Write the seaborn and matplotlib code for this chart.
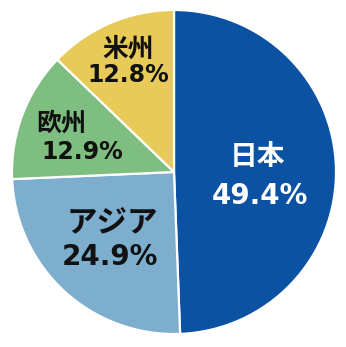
import matplotlib
matplotlib.use("Agg")
import matplotlib.pyplot as plt
import seaborn as sns

sns.set_style("white")
plt.rcParams['font.family'] = ['Noto Sans CJK JP', 'DejaVu Sans']

# Data
regions = ["日本", "アジア", "欧州", "米州"]
shares = [49.4, 24.9, 12.9, 12.8]
colors = sns.color_palette(["#0B52A3", "#7EAECE", "#7EBE80", "#E8CA58"])
text_colors = ["white", "#111111", "#111111", "#111111"]

# label placement (pixel centers in the 346x347 figure): name, percent
name_px = [(257, 157), (112, 223), (61, 124), (128, 49)]
pct_px = [(260, 196), (110, 257), (82, 152), (128, 75)]
name_sizes = [20, 22, 18, 18.5]
pct_sizes = [20, 20, 17, 17]

W, H = 346, 347
cx, cy, r = 174, 172, 162

fig = plt.figure(figsize=(W / 100, H / 100), dpi=100)
ax = fig.add_axes([(cx - r) / W, 1 - (cy + r) / H, 2 * r / W, 2 * r / H])
ax.pie(shares, colors=colors, startangle=90, counterclock=False,
       wedgeprops=dict(edgecolor="white", linewidth=1.6))
ax.set_xlim(-1, 1)
ax.set_ylim(-1, 1)
ax.set_aspect("equal")
ax.axis("off")

def to_data(p):
    return ((p[0] - cx) / r, (cy - p[1]) / r)

for name, val, npx, ppx, tc, nfs, pfs in zip(regions, shares, name_px, pct_px,
                                            text_colors, name_sizes, pct_sizes):
    x, y = to_data(npx)
    ax.text(x, y, name, ha="center", va="center", color=tc, fontsize=nfs,
            fontweight="bold", family=['Noto Sans CJK JP', 'DejaVu Sans'])
    x, y = to_data(ppx)
    ax.text(x, y, f"{val:.1f}%", ha="center", va="center", color=tc, fontsize=pfs,
            fontweight="bold", family=['DejaVu Sans'])

fig.savefig("out.png", dpi=100, facecolor="white")
